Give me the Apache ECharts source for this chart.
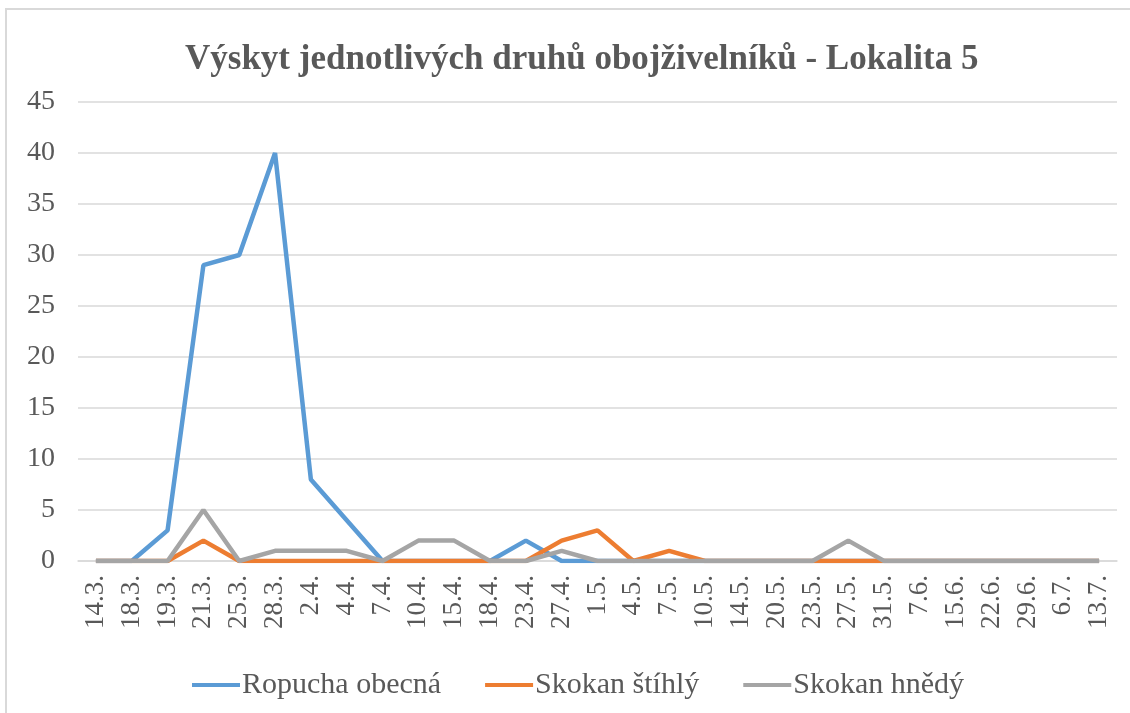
<!DOCTYPE html>
<html>
<head>
<meta charset="utf-8">
<script src="https://cdn.jsdelivr.net/npm/echarts@6/dist/echarts.min.js"></script>
<style>
html, body { margin: 0; padding: 0; background: #fff; }
#chart { width: 1130px; height: 713px; }
</style>
</head>
<body>
<div id="chart"></div>
<script>
// datumy pozorování
const dates = ['14.3.', '18.3.', '19.3.', '21.3.', '25.3.', '28.3.', '2.4.', '4.4.', '7.4.', '10.4.',
  '15.4.', '18.4.', '23.4.', '27.4.', '1.5.', '4.5.', '7.5.', '10.5.', '14.5.', '20.5.',
  '23.5.', '27.5.', '31.5.', '7.6.', '15.6.', '22.6.', '29.6.', '6.7.', '13.7.'];

const ropucha = [0, 0, 3, 29, 30, 40, 8, 4, 0, 0, 0, 0, 2, 0, 0, 0, 0, 0, 0, 0, 0, 0, 0, 0, 0, 0, 0, 0, 0];
const skokanStihly = [0, 0, 0, 2, 0, 0, 0, 0, 0, 0, 0, 0, 0, 2, 3, 0, 1, 0, 0, 0, 0, 0, 0, 0, 0, 0, 0, 0, 0];
const skokanHnedy = [0, 0, 0, 5, 0, 1, 1, 1, 0, 2, 2, 0, 0, 1, 0, 0, 0, 0, 0, 0, 0, 2, 0, 0, 0, 0, 0, 0, 0];

const seriesNames = ['Ropucha obecná', 'Skokan štíhlý', 'Skokan hnědý'];
const colors = ['#5B9BD5', '#ED7D31', '#A5A5A5'];

const font = 'Liberation Serif';
const textColor = '#595959';

const chart = echarts.init(document.getElementById('chart'));
const option = {
  animation: false,
  color: colors,
  graphic: [{
    type: 'rect',
    shape: { x: 6, y: 9, width: 1200, height: 800 },
    style: { fill: 'none', stroke: '#d9d9d9', lineWidth: 2 },
    silent: true
  }],
  title: {
    text: 'Výskyt jednotlivých druhů obojživelníků - Lokalita 5',
    left: 180,
    top: 37,
    textStyle: { fontFamily: font, fontSize: 35, fontWeight: 'bold', color: textColor }
  },
  legend: {
    data: seriesNames,
    left: 187,
    top: 665,
    icon: 'rect',
    itemWidth: 48,
    itemHeight: 4,
    itemGap: 44,
    textStyle: { fontFamily: font, fontSize: 30, color: textColor, padding: [0, 0, 0, -3] }
  },
  grid: { left: 78, right: 13, top: 102, bottom: 152 },
  xAxis: {
    type: 'category',
    data: dates,
    boundaryGap: true,
    axisLine: { lineStyle: { color: '#d9d9d9', width: 1.5 } },
    axisTick: { show: false },
    axisLabel: {
      rotate: 90,
      interval: 0,
      margin: 14,
      fontFamily: font,
      fontSize: 27,
      color: textColor
    }
  },
  yAxis: {
    type: 'value',
    min: 0,
    max: 45,
    interval: 5,
    axisLine: { show: false },
    axisTick: { show: false },
    splitLine: { lineStyle: { color: '#d9d9d9', width: 1.5 } },
    axisLabel: { margin: 23, fontFamily: font, fontSize: 28, color: textColor }
  },
  series: [
    { name: seriesNames[0], type: 'line', data: ropucha, symbol: 'none', lineStyle: { width: 4.5 } },
    { name: seriesNames[1], type: 'line', data: skokanStihly, symbol: 'none', lineStyle: { width: 4.5 } },
    { name: seriesNames[2], type: 'line', data: skokanHnedy, symbol: 'none', lineStyle: { width: 4.5 } }
  ]
};
chart.setOption(option);
</script>
</body>
</html>
